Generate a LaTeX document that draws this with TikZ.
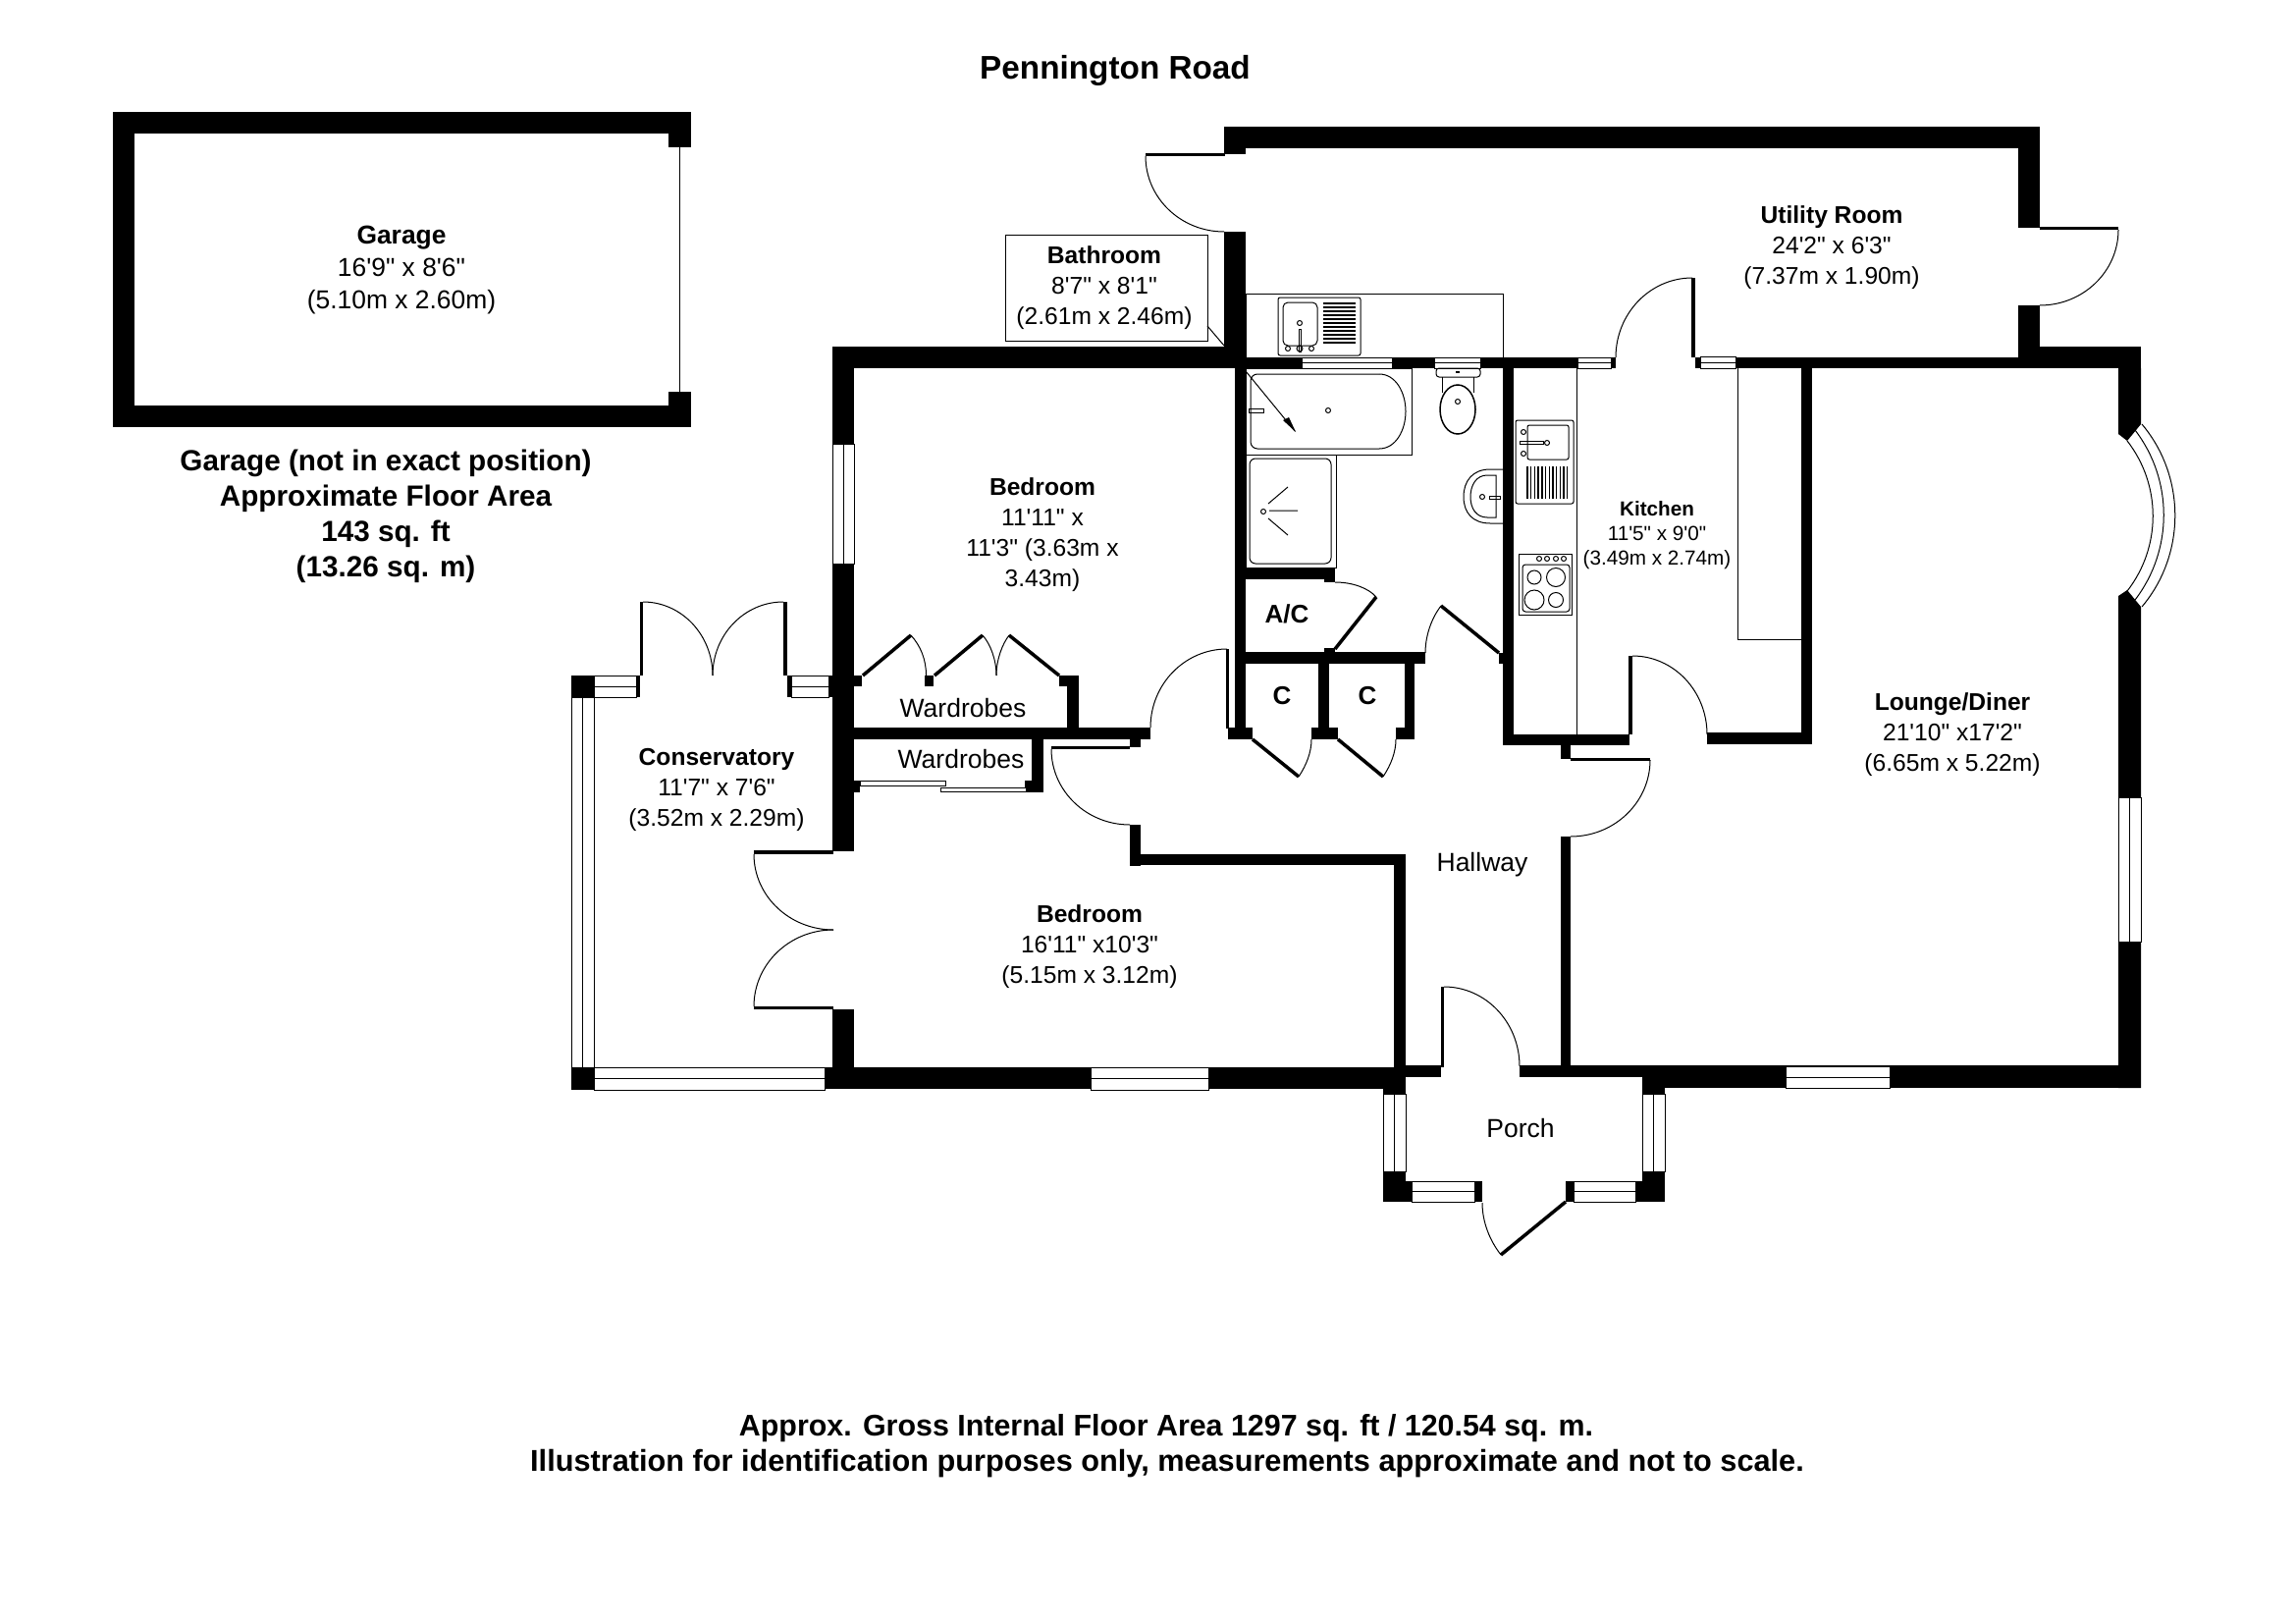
\documentclass[tikz,border=0pt]{standalone}
\usepackage{fontspec}
\newfontfamily\planfont{Liberation Sans}
\usetikzlibrary{calc}
\tikzset{every path/.style={line width=1pt},
  every node/.style={inner sep=0pt, align=center},
  room/.style={font=\planfont\fontsize{24.6}{31}\selectfont},
  tag/.style={font=\planfont\fontsize{26.5}{31}\selectfont},
  heading/.style={font=\planfont\bfseries\fontsize{29.7}{36}\selectfont},
  glass/.style={draw=black, fill=white},
  leaf/.style={line width=3.5pt}}

\begin{document}
\begin{tikzpicture}[x=1pt,y=-1pt]
  \useasboundingbox (0,0) rectangle (2339,1653);
  % walls
  \foreach \xa/\ya/\xb/\yb in {115/114/704/136, 115/114/137/435, 115/413/704/435, 681/114/704/150, 681/399/704/435,
    1247/129/2078/151, 1247/129/1269/157, 2056/129/2078/232, 2056/311/2078/375, 1727/364/2056/375, 2078/353/2181/375,
    848/353/1269/375, 1247/236/1269/375, 1269/364/1646/375, 1723/283/1727/364, 1727/364/1732/375, 1167/156/1248/159,
    1258/375/1269/753, 1531/375/1542/759, 1835/375/1846/758, 1258/578/1360/590, 1349/590/1360/593, 1349/660/1360/665,
    1258/664/1452/676, 1343/676/1354/741, 1336/741/1363/753, 1431/676/1441/753, 1422/741/1441/753, 1251/741/1276/753,
    1249/661/1252/742, 1527/665/1532/676, 1531/748/1660/759, 1739/746/1846/758, 1659/668/1663/748,
    1590/759/1600/773, 1600/772/1681/774.5, 1590/852/1600/1097, 1151/840/1162/882, 1151/870/1432/881, 1420/870/1432/1097,
    840/1087/1432/1109, 1432/1085/1468/1097, 1468/1005/1471/1087, 1548/1085/1673/1097, 1673/1085/2181/1108,
    1409/1097/1432/1114, 1409/1193/1432/1224, 1432/1203/1438/1224, 1502/1203/1510/1224, 1595/1203/1603/1224,
    1666/1203/1673/1224, 1673/1193/1696/1224, 1673/1097/1696/1114, 2078/231/2158/234,
    582/688/605/710, 582/1087/605/1110, 648/688/652/710, 802/688/806/710, 652/613/655/688, 798/613/802/688, 844/688/848/710,
    848/354/870/867, 768/866/849/870, 768/1025/849/1028, 848/1028/870/1087,
    870/741/1172/753, 1087/688/1099/741, 1079/688/1087/699, 870/688/878/699, 942/688/951/699,
    1051/753/1063/807, 1044/795/1051/807, 870/795/876/807, 1151/753/1162/761, 1071/760/1151/763}
    \fill (\xa,\ya) rectangle (\xb,\yb);
  \fill (2158,375) -- (2181,375) -- (2181,432) -- (2167,449) -- (2158,442) -- cycle;
  \fill (2158,607) -- (2167,601) -- (2181,618) -- (2181,1108) -- (2158,1108) -- cycle;
  % windows
  \foreach \xa/\xb/\ya/\yb in {605/648/688/710, 806/844/688/710, 605/840/1087/1110, 1111/1231/1087/1110, 1326/1418/364/375,
    1461/1508/364/375, 1607/1641/364/375, 1732/1768/363/375, 1438/1502/1203/1224, 1603/1666/1203/1224, 1819/1925/1086/1108} {
    \draw[glass] (\xa,\ya) rectangle (\xb,\yb);
    \draw (\xa,{(\ya+\yb)/2}) -- (\xb,{(\ya+\yb)/2});
  }
  \foreach \xa/\xb/\ya/\yb in {582/605/710/1087, 1409/1432/1114/1193, 1673/1696/1114/1193, 2158/2181/812/959, 848/870/452/574} {
    \draw[glass] (\xa,\ya) rectangle (\xb,\yb);
    \draw ({(\xa+\xb)/2},\ya) -- ({(\xa+\xb)/2},\yb);
  }
  \draw (2182,432) .. controls (2227,485.5) and (2227,564.5) .. (2182,618);
  \draw (2175,438) .. controls (2214,489) and (2214,560) .. (2175,611);
  \draw (2167,449) .. controls (2202,494) and (2202,557) .. (2167,602);
  % door swings
  \foreach \xa/\ya/\xb/\yb in {1167/159/1247/236, 2158/234/2078/311, 1646/364/1724/283, 726/688/655/613, 726/688/798/613,
    768/870/849/947, 768/1025/849/947, 1071/763/1151/840, 1172/741/1250/661, 1739/748/1663/668, 1681/774/1600/852, 1548/1086/1471/1005}
    \draw (\xa,\ya) .. controls ($(\xa,\ya)!0.552!(\xa,\yb)$) and ($(\xb,\yb)!0.552!(\xa,\yb)$) .. (\xb,\yb);
  \draw (1360,593) .. controls (1378,593) and (1394,599) .. (1402,608);
  \draw (928,647) .. controls (938,658) and (943.5,672) .. (943.5,688);
  \draw (1001,647) .. controls (1009,656) and (1015,672) .. (1015,688);
  \draw (1028,647) .. controls (1021,656) and (1015,672) .. (1015,688);
  \draw (1323,791) .. controls (1331,779) and (1336,766) .. (1336,753);
  \draw (1409,791) .. controls (1417,779) and (1422,766) .. (1422,753);
  \draw (1468,617) .. controls (1458,630) and (1452,648) .. (1452,665);
  \draw (1529,1278) .. controls (1518,1264) and (1510,1245) .. (1510,1225);
  \foreach \xa/\ya/\xb/\yb in {1402/608/1360/661, 879/688/928/647, 952/688/1001/647, 1028/647/1079/688, 1276/753/1323/791,
    1363/753/1409/791, 1468/617/1527/665, 1595/1224/1529/1278}
    \draw[leaf] (\xa,\ya) -- (\xb,\yb);
  \draw[glass] (876,795.5) rectangle (963,800.5);
  \draw[glass] (958,802) rectangle (1045,806);
  \draw (692,150) -- (692,399);
  % fittings
  \draw[glass] (1024,240) rectangle (1230,347);
  \draw (1230,332) -- (1247,352);
  \draw (1269,299) rectangle (1531,364);
  \draw (1269,375) rectangle (1438,463);
  \draw (1269,463) rectangle (1361,578);
  \draw (1606,375) -- (1606,748);
  \draw (1770,375) -- (1770,651) -- (1835,651);
  % bathroom
  \draw[rounded corners=7pt] (1405,381) -- (1274,381) -- (1274,457) -- (1405,457);
  \draw (1405,381) .. controls (1422,381) and (1432,400) .. (1432,419) .. controls (1432,438) and (1422,457) .. (1405,457);
  \draw (1269,378) -- (1319,439);
  \fill (1307,428) -- (1313,425) -- (1320,440) -- cycle;
  \draw (1353,418) circle (2.5);
  \draw (1272,416) rectangle (1287,420);
  \draw[rounded corners=6pt] (1273,467) rectangle (1356,574);
  \draw (1287,521) circle (2.5);
  \draw (1293,520) -- (1322,520) (1292,513) -- (1312,496) (1292,528) -- (1312,545);
  \draw[rounded corners=3pt] (1463,375) rectangle (1508,384);
  \draw (1469,384) -- (1469,400) (1501,384) -- (1501,400);
  \draw[line width=1.5pt] (1485,417) ellipse (18 and 25);
  \draw (1485,409) circle (2.5);
  \fill (1483,378) rectangle (1487,380);
  \draw (1532,478) -- (1518,478) .. controls (1500,478) and (1491,490) .. (1491,506) .. controls (1491,522) and (1500,533) .. (1518,533) -- (1532,533);
  \draw (1524,484) -- (1515,484) .. controls (1504,484) and (1498,494) .. (1498,506) .. controls (1498,518) and (1504,527) .. (1515,527) -- (1524,527) -- cycle;
  \draw (1510,506) circle (2.5);
  \draw (1517,505) rectangle (1528,508);
  % kitchen sinks and hob
  \draw[rounded corners=2pt] (1302,303) rectangle (1386,362);
  \draw[rounded corners=5pt] (1307,308) rectangle (1342,352);
  \foreach \y in {309,313,...,351} \draw[line width=1.4pt] (1348,\y) -- (1381,\y);
  \draw (1323,335) rectangle (1325,358);
  \draw (1324,329) circle (2.5) (1324,355) circle (3) (1312,355) circle (2.5) (1336,355) circle (2.5);
  \draw[rounded corners=2pt] (1544,428) rectangle (1603,513);
  \draw[rounded corners=2pt] (1556,433) rectangle (1598,468);
  \foreach \x in {1556,1559.7,...,1598} \draw[line width=1.4pt] (\x,475) -- (\x,508);
  \draw (1548,449) rectangle (1572,452);
  \draw (1576,451) circle (2.5) (1552,440) circle (2.5) (1552,462) circle (2.5);
  \draw (1547,564) rectangle (1601,626);
  \draw[rounded corners=3pt] (1551,575) rectangle (1599,623);
  \foreach \x in {1568,1576,1585,1593} \draw (\x,569) circle (2.5);
  \draw (1563,588) circle (7) (1585,588) circle (9.5) (1563,611) circle (10) (1585,611) circle (7.5);
  % labels
  \node[font=\planfont\bfseries\fontsize{33.3}{36}\selectfont] (title) at (1136,72) {Pennington Road};
  \node[font=\planfont\fontsize{26.4}{33}\selectfont] (garage) at (409,275) {\textbf{Garage}\\16'9" x 8'6"\\(5.10m x 2.60m)};
  \node[heading] (garagearea) at (393,526) {Garage (not in exact position)\\Approximate Floor Area\\143 sq. ft\\(13.26 sq. m)};
  \node[room] (utility) at (1866,252) {\textbf{Utility Room}\\24'2" x 6'3"\\(7.37m x 1.90m)};
  \node[room] (bathroom) at (1125,293) {\textbf{Bathroom}\\8'7" x 8'1"\\(2.61m x 2.46m)};
  \node[room] (bedroomone) at (1062,545) {\textbf{Bedroom}\\11'11" x\\11'3" (3.63m x\\3.43m)};
  \node[tag] (wardrobeone) at (981,721) {Wardrobes};
  \node[tag] (wardrobetwo) at (979,773) {Wardrobes};
  \node[room] (conservatory) at (730,804) {\textbf{Conservatory}\\11'7" x 7'6"\\(3.52m x 2.29m)};
  \node[room] (bedroomtwo) at (1110,964) {\textbf{Bedroom}\\16'11" x10'3"\\(5.15m x 3.12m)};
  \node[tag] (hallway) at (1510,881) {Hallway};
  \node[font=\planfont\fontsize{20.7}{25}\selectfont] (kitchen) at (1688,545) {\textbf{Kitchen}\\11'5" x 9'0"\\(3.49m x 2.74m)};
  \node[room] (lounge) at (1989,748) {\textbf{Lounge/Diner}\\21'10" x17'2"\\(6.65m x 5.22m)};
  \node[tag] (porch) at (1549,1149) {Porch};
  \node[font=\planfont\bfseries\fontsize{26}{31}\selectfont] (airing) at (1311,625) {A/C};
  \node[font=\planfont\bfseries\fontsize{26}{31}\selectfont] (cupboardone) at (1306,709) {C};
  \node[font=\planfont\bfseries\fontsize{26}{31}\selectfont] (cupboardtwo) at (1393,709) {C};
  \node[font=\planfont\bfseries\fontsize{30.4}{36}\selectfont] (floorarea) at (1188,1455) {Approx. Gross Internal Floor Area 1297 sq. ft / 120.54 sq. m.};
  \node[font=\planfont\bfseries\fontsize{30.7}{36}\selectfont] (disclaimer) at (1189,1491) {Illustration for identification purposes only, measurements approximate and not to scale.};
\end{tikzpicture}
\end{document}
